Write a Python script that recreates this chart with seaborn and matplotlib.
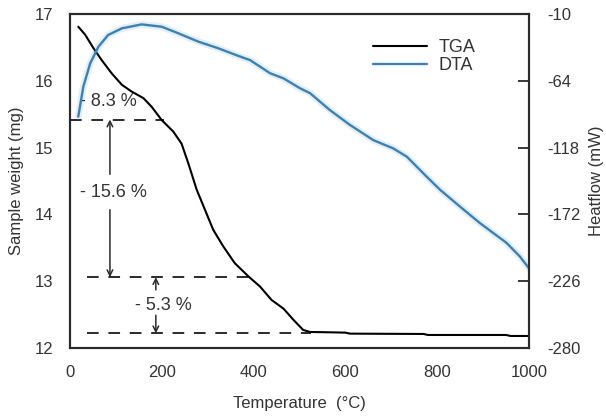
import matplotlib
matplotlib.use("Agg")
import matplotlib.pyplot as plt
import seaborn as sns
import pandas as pd

# ---- data ----
tga_temp = [18, 33, 51, 69, 91, 113, 134, 160, 178, 200, 225, 243, 258, 276, 294, 312,
            334, 359, 389, 414, 439, 465, 487, 508, 523, 566, 600, 610, 770, 780, 950,
            960, 1000]
tga_mass = [16.81, 16.69, 16.49, 16.31, 16.11, 15.94, 15.84, 15.74, 15.61, 15.41, 15.24,
            15.06, 14.76, 14.37, 14.07, 13.77, 13.52, 13.27, 13.07, 12.92, 12.72, 12.59,
            12.42, 12.27, 12.24, 12.235, 12.23, 12.215, 12.21, 12.195, 12.195, 12.18,
            12.18]
dta_temp = [18, 29, 44, 62, 83, 113, 156, 200, 236, 280, 323, 352, 381, 392, 436, 465,
            501, 523, 566, 610, 661, 704, 734, 777, 806, 850, 893, 922, 951, 980, 1000]
dta_flow = [-93, -68.8, -49.9, -36.4, -27, -21.6, -18.4, -20.3, -25.6, -32.4, -37.7,
            -41.8, -45.8, -47.2, -57.9, -62, -70, -74, -87.6, -99.7, -112, -118.6,
            -125.4, -141.5, -152, -165.8, -179, -187, -195, -206, -215.6]

step_levels = [15.42, 13.06, 12.22]
step_starts = [0, 37, 37]
step_ends = [205, 395, 525]
step_labels = ["- 8.3 %", "- 15.6 %", "- 5.3 %"]

x_ticks = [0, 200, 400, 600, 800, 1000]
left_ticks = [12, 13, 14, 15, 16, 17]
right_ticks = [-280, -226, -172, -118, -64, -10]

sns.set_style("white")
plt.rcParams["font.family"] = ["Liberation Sans", "DejaVu Sans"]

INK = "#2a2a2a"
TXT = "#333333"
BLUE = "#3b82b4"

fig = plt.figure(figsize=(6.06, 4.16), dpi=100)
ax = fig.add_axes([70 / 606, 1 - 348 / 416, (529 - 70) / 606, (348 - 14) / 416])
ax2 = ax.twinx()

tga_df = pd.DataFrame({"T": tga_temp, "m": tga_mass})
dta_df = pd.DataFrame({"T": dta_temp, "h": dta_flow})

# soft halo under DTA (as in the scanned reference)
sns.lineplot(data=dta_df, x="T", y="h", ax=ax2, color=BLUE, linewidth=5, alpha=0.13, legend=False)
sns.lineplot(data=tga_df, x="T", y="m", ax=ax, color="black", linewidth=1.5, label="TGA", legend=False)
sns.lineplot(data=dta_df, x="T", y="h", ax=ax2, color=BLUE, linewidth=1.7, label="DTA", legend=False)

ax.set_xlim(0, 1000)
ax.set_ylim(12, 17)
ax2.set_ylim(-280, -10)

ax.set_xticks(x_ticks)
ax.set_yticks(left_ticks)
ax2.set_yticks(right_ticks)
ax.set_xticklabels([str(t) for t in x_ticks], fontsize=12, color=TXT)
ax.set_yticklabels([str(t) for t in left_ticks], fontsize=12, color=TXT)
ax2.set_yticklabels([str(t) for t in right_ticks], fontsize=12, color=TXT)

ax.tick_params(axis="x", direction="in", length=6, width=1.3, pad=12, color=INK)
ax.tick_params(axis="y", direction="in", length=0, pad=12)
ax2.tick_params(axis="y", direction="in", length=8, width=1.3, pad=13, color=INK)

for a in (ax, ax2):
    for s in a.spines.values():
        s.set_linewidth(1.5)
        s.set_color(INK)

ax.set_xlabel("Temperature  (°C)", fontsize=12, color=TXT, labelpad=12)
ax.set_ylabel("Sample weight (mg)", fontsize=12, color=TXT, labelpad=8)
ax2.set_ylabel("Heatflow (mW)", fontsize=12, color=TXT, labelpad=6)

# dashed step lines
for lvl, x0, x1 in zip(step_levels, step_starts, step_ends):
    ax.hlines(lvl, x0, x1, colors=INK, linestyles=(0, (6, 5)), linewidth=1.4, zorder=1)

# labels
ax.text(84, 15.69, step_labels[0], fontsize=13, ha="center", va="center", color=TXT)
ax.text(94, 14.33, step_labels[1], fontsize=13, ha="center", va="center", color=TXT)
ax.text(203, 12.64, step_labels[2], fontsize=13, ha="center", va="center", color=TXT)

arrow = dict(arrowstyle="->", color=INK, lw=1.1, shrinkA=0, shrinkB=0)
ax.annotate("", xy=(87, step_levels[0]), xytext=(87, 14.6), arrowprops=arrow)
ax.annotate("", xy=(87, step_levels[1]), xytext=(87, 14.07), arrowprops=arrow)
ax.annotate("", xy=(187, step_levels[1]), xytext=(187, 12.87), arrowprops=arrow)
ax.annotate("", xy=(187, step_levels[2]), xytext=(187, 12.49), arrowprops=arrow)

# legend
h1, l1 = ax.get_legend_handles_labels()
h2, l2 = ax2.get_legend_handles_labels()
h2 = [h for h, l in zip(h2, l2) if l == "DTA"]
leg = ax2.legend(h1 + h2, ["TGA", "DTA"], loc="upper left", bbox_to_anchor=(357 / 606, 1 - 23 / 416),
                 bbox_transform=fig.transFigure, frameon=False, fontsize=13,
                 handlelength=3.0, labelspacing=0.05, handletextpad=0.6)
for t in leg.get_texts():
    t.set_color(TXT)

fig.savefig("out.png", dpi=100, facecolor="white")
